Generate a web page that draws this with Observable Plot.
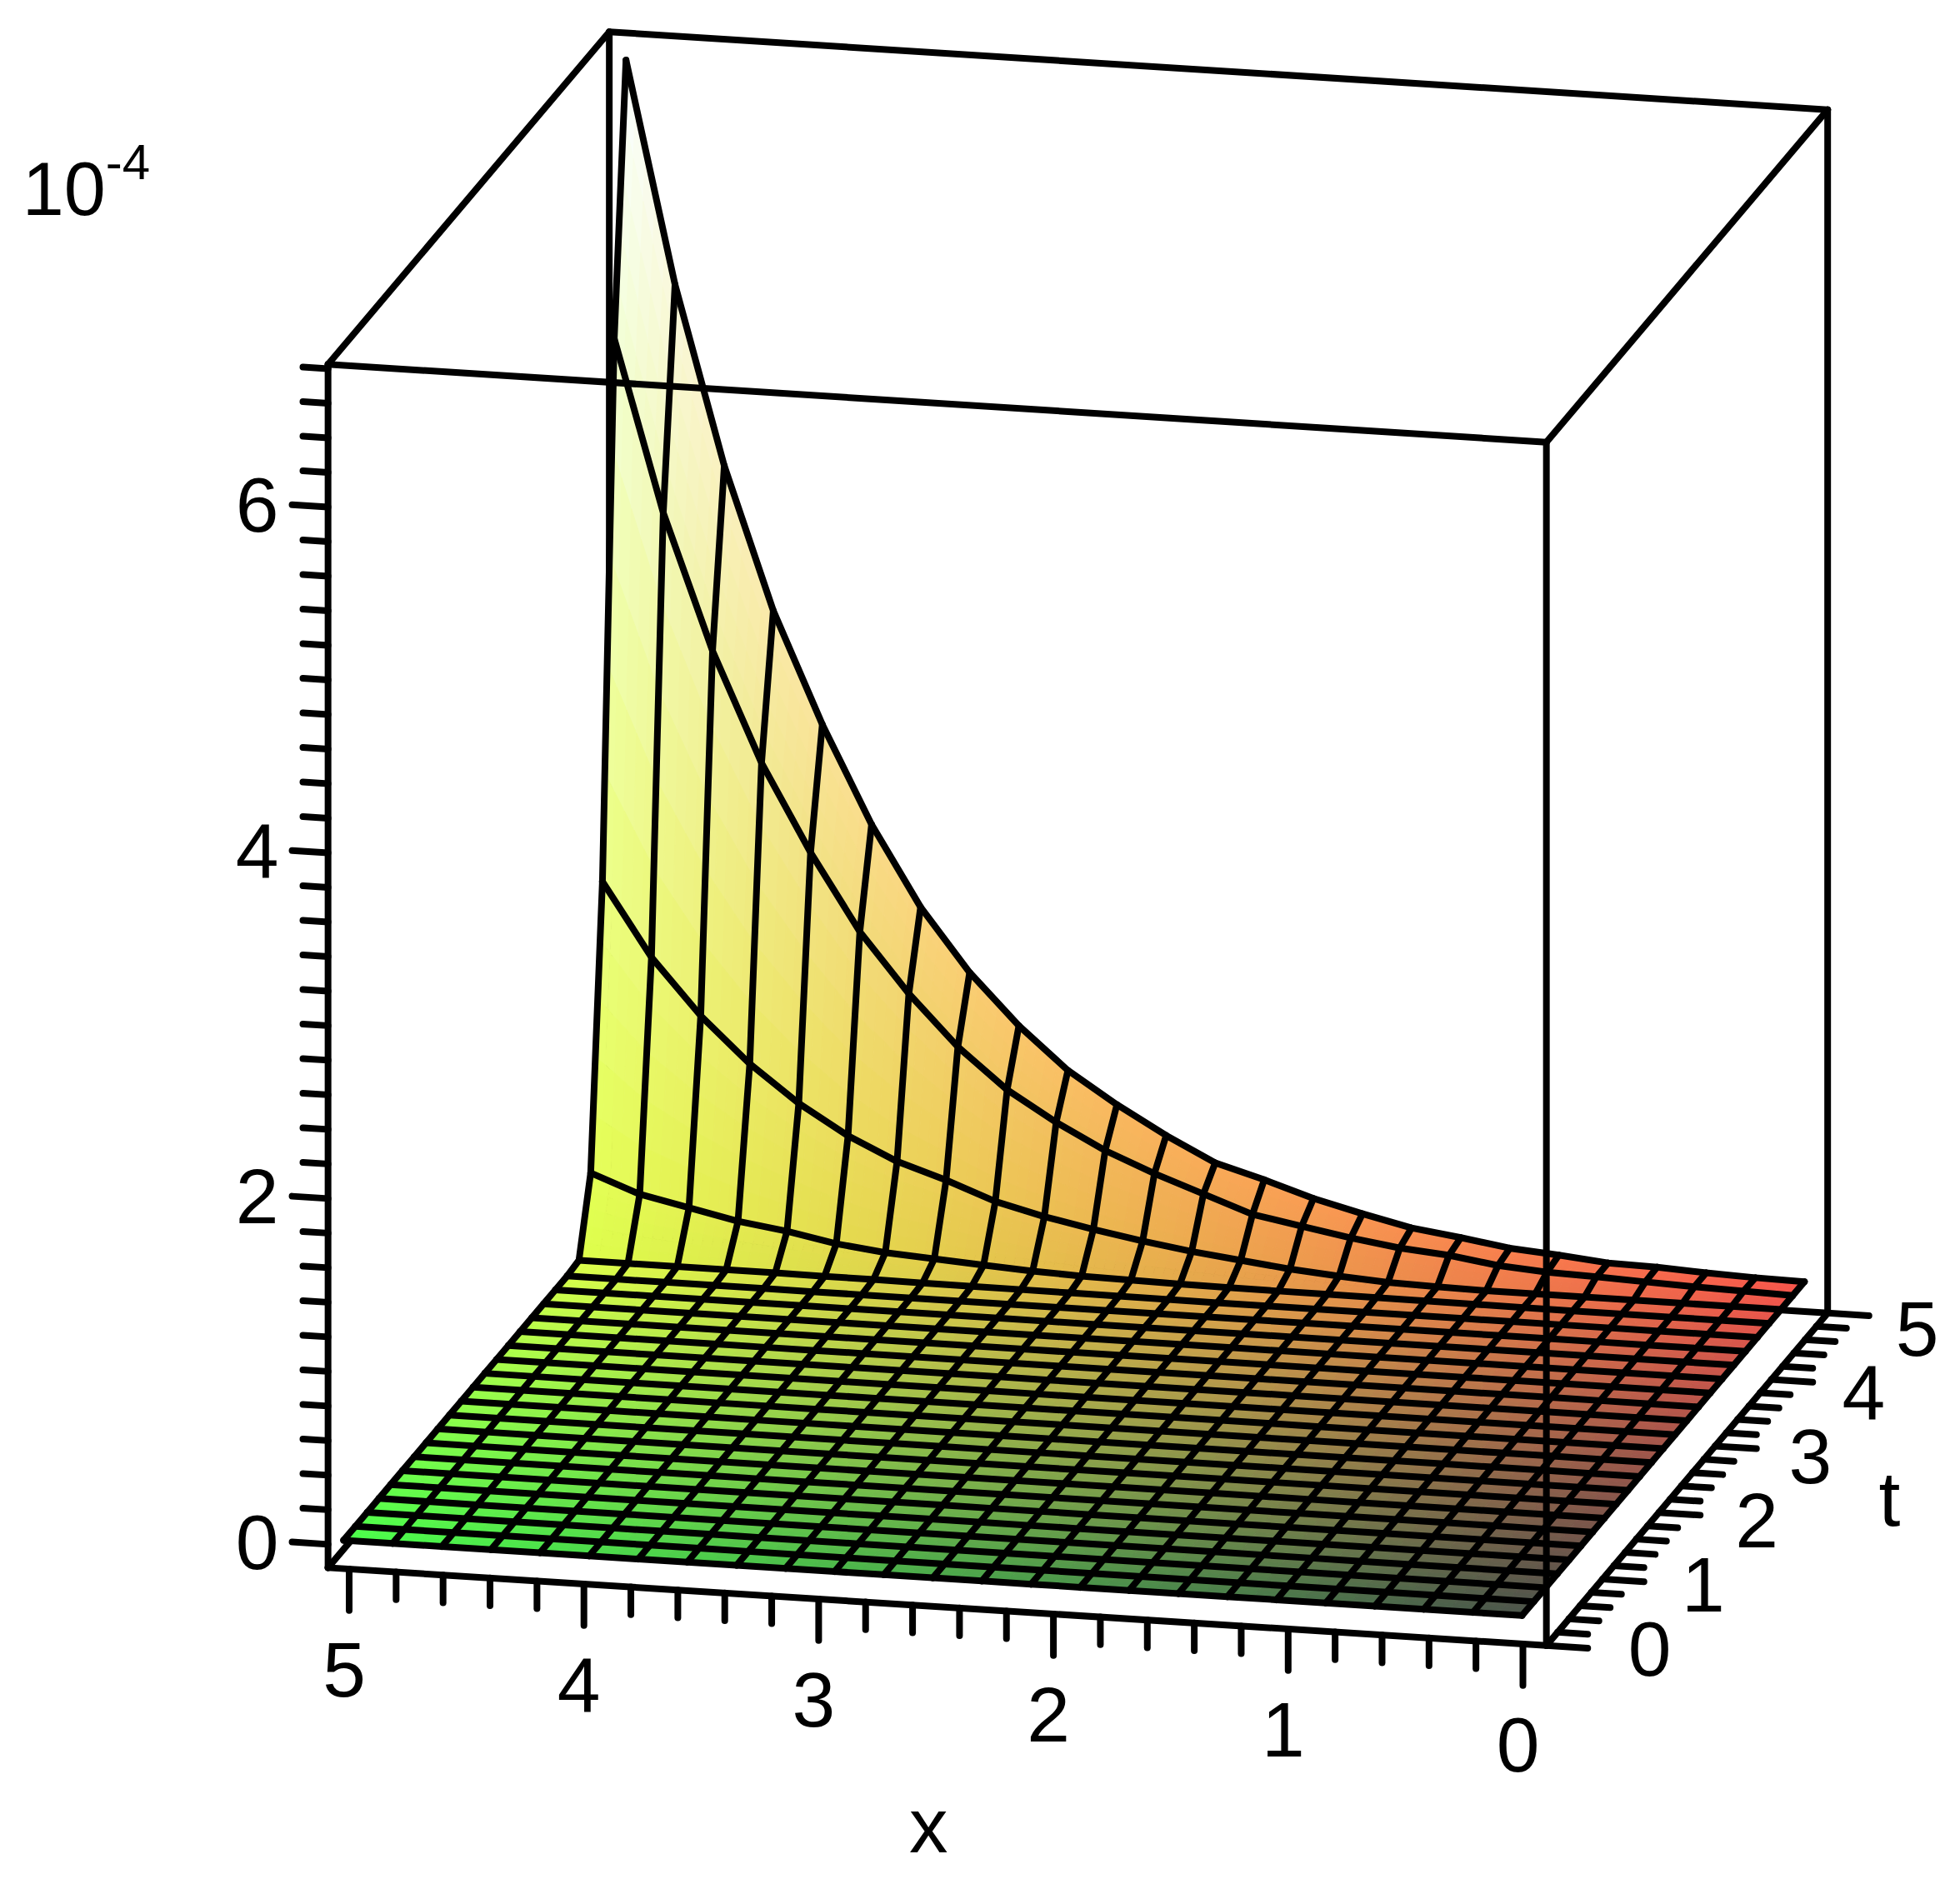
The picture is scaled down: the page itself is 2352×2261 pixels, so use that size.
<!DOCTYPE html>
<html>
<head>
<meta charset="utf-8">
<style>html,body{margin:0;padding:0;background:#fff}svg{display:block}</style>
<script src="https://cdn.jsdelivr.net/npm/d3@7"></script>
<script src="https://cdn.jsdelivr.net/npm/@observablehq/plot@0.6"></script>
</head>
<body>
<script>
// Grid of the surface: 25 sample lines each way (x runs from 5 down to 0, as the columns are read left to right)
const xValues = [5,4.792,4.583,4.375,4.167,3.958,3.75,3.542,3.333,3.125,2.917,2.708,2.5,2.292,2.083,1.875,1.667,1.458,1.25,1.042,0.833,0.625,0.417,0.208,0];
const tValues = [5,4.792,4.583,4.375,4.167,3.958,3.75,3.542,3.333,3.125,2.917,2.708,2.5,2.292,2.083,1.875,1.667,1.458,1.25,1.042,0.833,0.625,0.417,0.208,0];

// Surface height in units of 10^-4, rows with t near 5 (the others are flat at 0)
const zAtT5_000 = [6.63,5.35,4.32,3.50,2.86,2.30,1.84,1.48,1.19,0.95,0.77,0.61,0.47,0.39,0.30,0.23,0.166,0.128,0.085,0.063,0.036,0.03,0.015,0.005,0];
const zAtT4_792 = [5.10,4.11,3.33,2.70,2.20,1.76,1.42,1.13,0.90,0.73,0.585,0.47,0.37,0.27,0.22,0.17,0.13,0.106,0.065,0.045,0.036,0.025,0.015,0.008,0];
const zAtT4_583 = [2.04,1.62,1.30,1.04,0.83,0.66,0.53,0.44,0.335,0.265,0.21,0.16,0.118,0.085,0.053,0.03,0.012,0.005,0,0,0,0,0,0,0];
const zAtT4_375 = [0.435,0.33,0.27,0.21,0.17,0.116,0.083,0.065,0.047,0.03,0.02,0.015,0.01,0.008,0.006,0.005,0.004,0.003,0.002,0.001,0,0,0,0,0];
const zAtT4_167 = [0.01,0.01,0.01,0.01,0.01,0.008,0.008,0.006,0.005,0.004,0.003,0.002,0.001,0,0,0,0,0,0,0,0,0,0,0,0];
const zRows = new Map([[5,zAtT5_000],[4.792,zAtT4_792],[4.583,zAtT4_583],[4.375,zAtT4_375],[4.167,zAtT4_167]]);

// Tick values and labels
const xTicks = [0,0.2,0.4,0.6,0.8,1,1.2,1.4,1.6,1.8,2,2.2,2.4,2.6,2.8,3,3.2,3.4,3.6,3.8,4,4.2,4.4,4.6,4.8,5];
const tTicks = xTicks;
const zTicks = [0,0.2,0.4,0.6,0.8,1,1.2,1.4,1.6,1.8,2,2.2,2.4,2.6,2.8,3,3.2,3.4,3.6,3.8,4,4.2,4.4,4.6,4.8,5,5.2,5.4,5.6,5.8,6,6.2,6.4,6.6,6.8];
const xLabels = [0,1,2,3,4,5];
const tLabels = [0,1,2,3,4,5];
const zLabels = [0,2,4,6];

// Box extents
const xLo = -0.1, xHi = 5.09, tLo = 0, tHi = 5, zLo = -0.12, zHi = 6.84;

// Orthographic view of (x, t, z) on the page
const W = 2352, H = 2261;
const sx = (x, t) => 1.5 * (1218 - 187.8 * x + 45 * t);
const sy = (x, t, z) => 1.5 * (1298.4 - 12 * x - 53.2 * t - 138.33 * z);
// The drawn surface and the z ticks sit very slightly off the box's values
const surfX = x => 0.03 + 1.004 * x;
const surfT = t => 0.11 + 1.004 * t;
const zTickAt = z => z + 0.015;
const zOf = (i, j) => { const r = zRows.get(tValues[j]); return r ? r[i] : 0; };
const colorOf = (x, t, z) => {
  const r = 75 + 175 * t / 5, g = 85 + 170 * x / 5, b = 75 + 180 * Math.min(1, z / 6.6);
  return `rgb(${r.toFixed(0)},${g.toFixed(0)},${b.toFixed(0)})`;
};

// Colour patches: each grid cell is shaded in small patches so that its colour runs smoothly, as a shaded surface does
const lerp = (a, b, u) => a + (b - a) * u;
const patchPoints = [];
for (let j = 0; j < tValues.length - 1; ++j) {
  const n = j < 5 ? 5 : 2;
  for (let i = 0; i < xValues.length - 1; ++i) {
    const at = (u, v) => {
      const x = lerp(xValues[i], xValues[i + 1], u), t = lerp(tValues[j], tValues[j + 1], v);
      const z = lerp(lerp(zOf(i, j), zOf(i + 1, j), u), lerp(zOf(i, j + 1), zOf(i + 1, j + 1), u), v);
      return {x, t, z};
    };
    for (let a = 0; a < n; ++a) for (let b = 0; b < n; ++b) {
      const c = at((a + 0.5) / n, (b + 0.5) / n), fill = colorOf(c.x, c.t, c.z);
      for (const [u, v] of [[a, b], [a + 1, b], [a + 1, b + 1], [a, b + 1]]) {
        const p = at(u / n, v / n), x = surfX(p.x), t = surfT(p.t);
        patchPoints.push({patch: `${j}-${i}-${a}-${b}`, fill, px: sx(x, t), py: sy(x, t, p.z)});
      }
    }
  }
}
// Mesh lines: one polyline per sample row and per sample column
const meshPoints = [];
tValues.forEach((tv, j) => xValues.forEach((xv, i) => {
  const x = surfX(xv), t = surfT(tv);
  meshPoints.push({line: `t${j}`, px: sx(x, t), py: sy(x, t, zOf(i, j))});
}));
xValues.forEach((xv, i) => tValues.forEach((tv, j) => {
  const x = surfX(xv), t = surfT(tv);
  meshPoints.push({line: `x${i}`, px: sx(x, t), py: sy(x, t, zOf(i, j))});
}));

const seg = (a, b) => ({x1: sx(a[0], a[1]), y1: sy(a[0], a[1], a[2]), x2: sx(b[0], b[1]), y2: sy(b[0], b[1], b[2])});
const backEdges = [
  seg([xHi, tHi, zLo], [xHi, tHi, zHi]),
  seg([xHi, tLo, zLo], [xHi, tHi, zLo]),
  seg([xHi, tHi, zLo], [xLo, tHi, zLo]),
  seg([xLo, tHi, zLo], [xLo, tHi, zHi]),
  seg([xHi, tHi, zHi], [xLo, tHi, zHi]),
  seg([xHi, tHi, zHi], [xHi, tLo, zHi]),
  seg([xLo, tHi, zHi], [xLo, tLo, zHi])
];
const frontEdges = [
  seg([xHi, tLo, zLo], [xHi, tLo, zHi]),
  seg([xLo, tLo, zLo], [xLo, tLo, zHi]),
  seg([xHi, tLo, zHi], [xLo, tLo, zHi]),
  seg([xHi, tLo, zLo], [xLo, tLo, zLo]),
  seg([xLo, tLo, zLo], [xLo, tHi, zLo])
];
const tickSegs = [
  ...zTicks.map(z => seg([xHi, tLo, zTickAt(z)], [xHi + (z % 2 === 0 ? 0.153 : 0.107), tLo, zTickAt(z)])),
  ...xTicks.map(x => seg([x, tLo, zLo], [x, tLo, zLo - (Number.isInteger(x) ? 0.24 : 0.16)])),
  ...tTicks.map(t => seg([xLo, t, zLo], [xLo - (Number.isInteger(t) ? 0.176 : 0.128), t, zLo]))
];
const lineW = 8;
const linkOpts = {x1: "x1", y1: "y1", x2: "x2", y2: "y2", stroke: "black", strokeWidth: lineW, strokeLinecap: "round"};
const font = {fontFamily: "Liberation Sans, Arial, sans-serif", fontSize: 93, fill: "black", textAnchor: "middle", lineAnchor: "middle"};

const svg = Plot.plot({
  width: W, height: H, margin: 0,
  style: {background: "white"},
  x: {domain: [0, W], range: [0, W], axis: null},
  y: {domain: [0, H], range: [0, H], axis: null},
  color: {type: "identity"},
  marks: [
    Plot.link(backEdges, linkOpts),
    Plot.line(patchPoints, {x: "px", y: "py", z: "patch", fill: "fill", stroke: "fill", strokeWidth: 1, curve: "linear-closed"}),
    Plot.line(meshPoints, {x: "px", y: "py", z: "line", stroke: "black", strokeWidth: lineW, strokeLinejoin: "round", strokeLinecap: "round"}),
    Plot.link(frontEdges, linkOpts),
    Plot.link(tickSegs, linkOpts),
    Plot.text(zLabels, {...font, x: z => sx(xHi, tLo), y: z => sy(xHi, tLo, zTickAt(z)), dx: -85, text: z => String(z)}),
    Plot.text(xLabels, {...font, x: x => sx(x, tLo), y: x => sy(x, tLo, zLo), dx: -6, dy: 123, text: x => String(x)}),
    Plot.text(tLabels, {...font, x: t => sx(xLo, t) + 124 - 3.3 * t, y: t => sy(xLo, t, zLo) + 6 + 3 * t, text: t => String(t)}),
    Plot.text(["x"], {...font, x: () => sx(2.5, tLo), y: () => sy(2.5, tLo, zLo), dx: -9, dy: 265}),
    Plot.text(["t"], {...font, x: () => sx(xLo, 2.5), y: () => sy(xLo, 2.5, zLo), dx: 243, dy: 26}),
    Plot.text(["10-4"], {...font, fontSize: 90, textAnchor: "start", x: () => sx(xHi, tLo), y: () => sy(xHi, tLo, zHi), dx: -367, dy: -208})
  ]
});
// Set the exponent of the 10 as a superscript of the same text
for (const el of svg.querySelectorAll("text")) {
  if (el.textContent === "10-4") {
    const ns = "http://www.w3.org/2000/svg";
    const host = el.querySelector("tspan") || el;
    host.textContent = "10";
    const sup = document.createElementNS(ns, "tspan");
    sup.setAttribute("font-size", 60);
    sup.setAttribute("dy", -43);
    sup.textContent = "-4";
    host.appendChild(sup);
  }
}
document.body.appendChild(svg);
</script>
</body>
</html>
